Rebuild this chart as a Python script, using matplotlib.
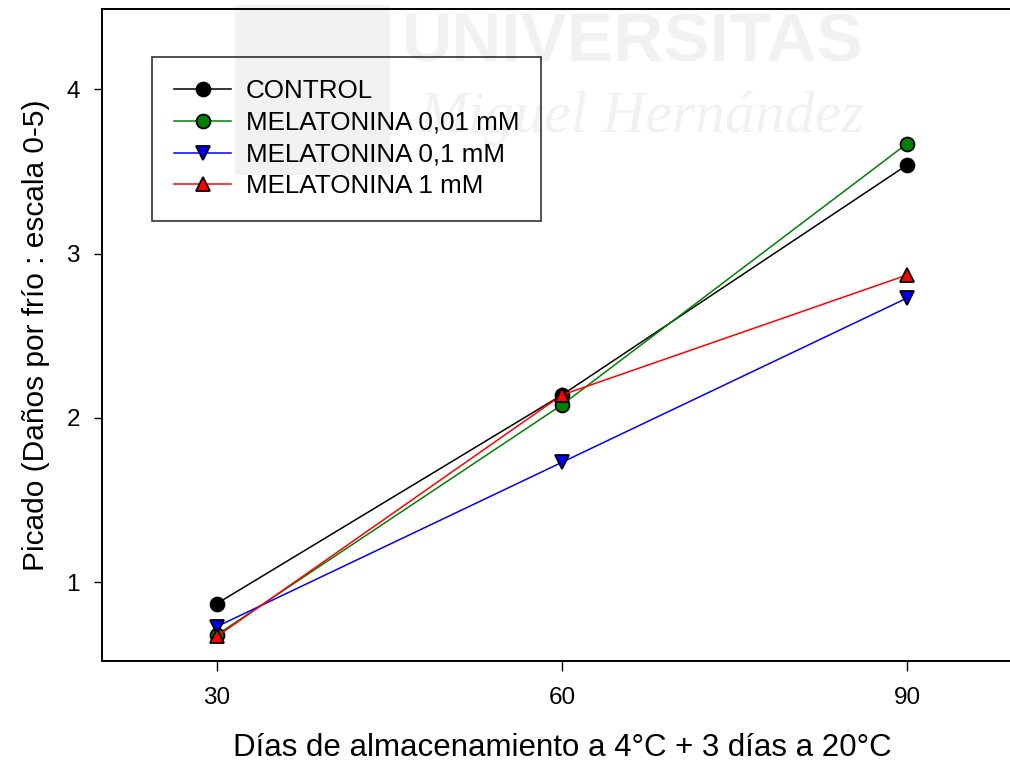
import matplotlib
matplotlib.use('Agg')
import matplotlib.pyplot as plt
from matplotlib.patches import Rectangle

plt.rcParams['font.family'] = ['Liberation Sans', 'DejaVu Sans']

# dias de almacenamiento y picado medio por tratamiento
dias = [30, 60, 90]
control = [0.87, 2.14, 3.54]
mel_001 = [0.68, 2.08, 3.67]
mel_01 = [0.73, 1.73, 2.73]
mel_1 = [0.67, 2.14, 2.87]

series = [
    ('CONTROL', control, 'black', 'o', 'black'),
    ('MELATONINA 0,01 mM', mel_001, 'green', 'o', 'green'),
    ('MELATONINA 0,1 mM', mel_01, 'blue', 'v', 'blue'),
    ('MELATONINA 1 mM', mel_1, 'red', '^', 'red'),
]

fig = plt.figure(figsize=(10.10, 7.67), dpi=100)
ax = fig.add_axes([102 / 1010, 106 / 767, 920 / 1010, 652 / 767])

for name, vals, c, mk, fc in series:
    ax.plot(dias, vals, color=c, lw=1.1, marker=mk, markersize=10,
            markerfacecolor=fc, markeredgecolor='black', markeredgewidth=1.3,
            label=name)

ax.set_xlim(20, 100)
ax.set_ylim(0.52, 4.49)
ax.set_xticks(dias)
ax.set_yticks([1, 2, 3, 4])
ax.spines['right'].set_visible(False)
for s in ['left', 'top', 'bottom']:
    ax.spines[s].set_linewidth(1.4)
ax.tick_params(axis='y', direction='out', length=6, width=1, pad=10, labelsize=17.5)
ax.tick_params(axis='x', direction='out', length=7, width=1, pad=12, labelsize=17.5)

ax.set_xlabel('Días de almacenamiento a 4°C + 3 días a 20°C', fontsize=22.5, labelpad=17)
ax.set_ylabel('Picado (Daños por frío : escala 0-5)', fontsize=21.5, labelpad=12)

leg = ax.legend(loc='upper left', bbox_to_anchor=(50 / 920, 1 - 48 / 652),
                fontsize=18.7, frameon=True, fancybox=False, handlelength=2.2,
                borderpad=0.85, labelspacing=0.3, handletextpad=0.55,
                borderaxespad=0)
leg.get_frame().set_edgecolor('black')
leg.get_frame().set_linewidth(1.2)

# marca de agua de la universidad
fig.patches.append(Rectangle((235 / 1010, 1 - 175 / 767), 155 / 1010, 170 / 767,
                             transform=fig.transFigure, color='black', alpha=0.05,
                             lw=0, zorder=10))
fig.text(633 / 1010, 1 - 44 / 767, 'UNIVERSITAS', fontsize=50, fontweight='bold',
         color='black', alpha=0.055, ha='center', va='center', zorder=10)
fig.text(642 / 1010, 1 - 118 / 767, 'Miguel Hernández', fontsize=43, style='italic',
         family='Liberation Serif', color='black', alpha=0.055, ha='center',
         va='center', zorder=10)

fig.savefig('out.png', dpi=100)
